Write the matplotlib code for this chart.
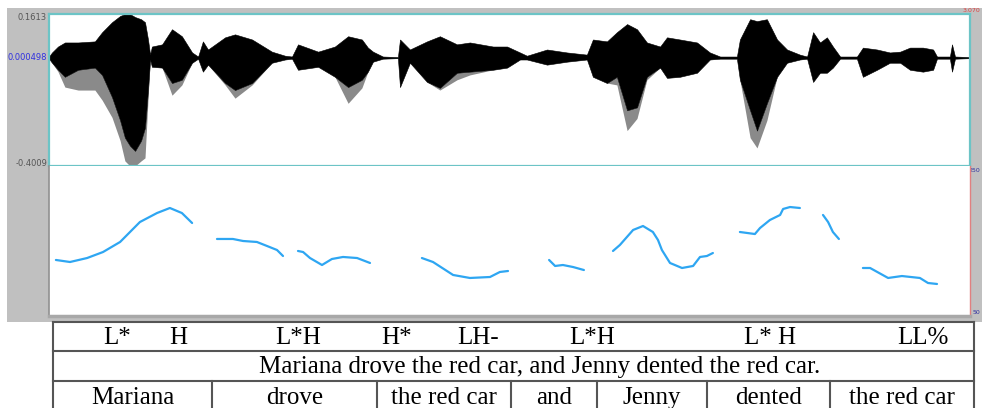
import matplotlib
matplotlib.use("Agg")
import matplotlib.pyplot as plt
from matplotlib.patches import Rectangle

# ── Waveform envelope (time s, amplitude) ────────────────────────────────
wave_t = [0.000, 0.010, 0.030, 0.053, 0.097, 0.153, 0.177, 0.210, 0.237, 0.253,
          0.270, 0.287, 0.307, 0.320, 0.330, 0.337, 0.343, 0.377, 0.410, 0.443,
          0.477, 0.497, 0.513, 0.530, 0.587, 0.620, 0.677, 0.743, 0.787, 0.810,
          0.830, 0.897, 0.953, 0.997, 1.043, 1.063, 1.080, 1.113, 1.163, 1.170,
          1.203, 1.260, 1.303, 1.360, 1.403, 1.480, 1.527, 1.570, 1.593, 1.660,
          1.727, 1.793, 1.813, 1.860, 1.893, 1.927, 1.960, 1.993, 2.037, 2.060,
          2.103, 2.160, 2.203, 2.237, 2.293, 2.303, 2.337, 2.360, 2.393, 2.427,
          2.460, 2.503, 2.527, 2.547, 2.570, 2.593, 2.613, 2.637, 2.693, 2.713,
          2.760, 2.803, 2.837, 2.870, 2.913, 2.947, 2.960, 3.003, 3.010, 3.020,
          3.070]
wave_top = [0.004, 0.019, 0.041, 0.056, 0.056, 0.060, 0.094, 0.131, 0.154, 0.161,
            0.161, 0.150, 0.142, 0.131, 0.067, 0.011, 0.041, 0.049, 0.105, 0.079,
            0.019, 0.004, 0.060, 0.030, 0.075, 0.086, 0.067, 0.022, 0.007, 0.004,
            0.049, 0.022, 0.041, 0.079, 0.067, 0.037, 0.022, 0.004, 0.002, 0.067,
            0.030, 0.060, 0.079, 0.049, 0.056, 0.041, 0.041, 0.019, 0.007, 0.030,
            0.019, 0.011, 0.067, 0.060, 0.094, 0.124, 0.105, 0.056, 0.041, 0.075,
            0.067, 0.056, 0.019, 0.004, 0.004, 0.067, 0.142, 0.135, 0.142, 0.067,
            0.030, 0.011, 0.004, 0.094, 0.056, 0.075, 0.041, 0.004, 0.004, 0.037,
            0.030, 0.019, 0.022, 0.037, 0.037, 0.030, 0.004, 0.004, 0.049, 0.004,
            0.002]
wave_bot = [-0.004, -0.019, -0.045, -0.071, -0.045, -0.037, -0.064, -0.146, -0.232, -0.296,
            -0.326, -0.345, -0.307, -0.259, -0.120, -0.007, -0.034, -0.037, -0.094, -0.082,
            -0.019, -0.004, -0.052, -0.026, -0.094, -0.120, -0.094, -0.019, -0.007, -0.004,
            -0.045, -0.034, -0.071, -0.109, -0.082, -0.052, -0.015, -0.004, -0.002, -0.109,
            -0.019, -0.090, -0.112, -0.056, -0.052, -0.045, -0.037, -0.007, -0.007, -0.026,
            -0.015, -0.007, -0.071, -0.094, -0.071, -0.195, -0.184, -0.071, -0.037, -0.075,
            -0.071, -0.056, -0.007, -0.004, -0.004, -0.082, -0.195, -0.270, -0.169, -0.071,
            -0.019, -0.007, -0.004, -0.090, -0.056, -0.056, -0.037, -0.004, -0.004, -0.071,
            -0.045, -0.019, -0.019, -0.045, -0.052, -0.045, -0.004, -0.004, -0.052, -0.004,
            -0.002]
wave_low = [-0.004, -0.019, -0.052, -0.109, -0.120, -0.120, -0.157, -0.221, -0.307, -0.382,
            -0.401, -0.401, -0.382, -0.371, -0.157, -0.007, -0.034, -0.037, -0.139, -0.101,
            -0.019, -0.004, -0.052, -0.026, -0.101, -0.150, -0.101, -0.019, -0.007, -0.004,
            -0.045, -0.034, -0.071, -0.169, -0.112, -0.052, -0.015, -0.004, -0.002, -0.109,
            -0.019, -0.090, -0.120, -0.082, -0.064, -0.045, -0.037, -0.007, -0.007, -0.026,
            -0.015, -0.007, -0.071, -0.094, -0.101, -0.270, -0.225, -0.082, -0.037, -0.075,
            -0.071, -0.056, -0.007, -0.004, -0.004, -0.082, -0.296, -0.334, -0.232, -0.071,
            -0.019, -0.007, -0.004, -0.090, -0.056, -0.056, -0.037, -0.004, -0.004, -0.071,
            -0.045, -0.019, -0.019, -0.045, -0.052, -0.045, -0.004, -0.004, -0.052, -0.004,
            -0.002]

# ── Pitch contour (time s, Hz), one list per voiced stretch ──────────────
pitch_t = [
    [0.023, 0.070, 0.127, 0.180, 0.237, 0.303, 0.360, 0.403, 0.443, 0.477],
    [0.560, 0.613, 0.647, 0.693, 0.727, 0.760, 0.780],
    [0.830, 0.847, 0.870, 0.910, 0.943, 0.980, 1.027, 1.070],
    [1.243, 1.280, 1.347, 1.403, 1.470, 1.503, 1.530],
    [1.667, 1.687, 1.713, 1.747, 1.783],
    [1.880, 1.903, 1.947, 1.980, 2.013, 2.030, 2.043, 2.070, 2.110, 2.147,
     2.170, 2.193, 2.213],
    [2.303, 2.353, 2.370, 2.403, 2.437, 2.447, 2.470, 2.503],
    [2.580, 2.597, 2.613, 2.633],
    [2.713, 2.737, 2.797, 2.843, 2.903, 2.930, 2.960],
]
pitch_hz = [
    [124.7, 122.0, 127.3, 135.3, 148.7, 175.3, 187.3, 194.0, 187.3, 174.0],
    [152.7, 152.7, 150.0, 148.7, 143.3, 138.0, 130.0],
    [136.7, 135.3, 127.3, 118.0, 126.0, 128.7, 127.3, 120.7],
    [127.3, 122.0, 104.7, 100.7, 102.0, 108.7, 110.0],
    [124.7, 116.7, 118.0, 115.3, 111.3],
    [136.7, 144.7, 164.7, 170.0, 162.0, 151.3, 138.0, 120.7, 114.0, 116.7,
     128.7, 130.0, 134.0],
    [162.0, 159.3, 167.3, 178.0, 184.7, 192.7, 195.3, 194.0],
    [184.7, 175.3, 162.0, 152.7],
    [114.0, 114.0, 100.7, 103.3, 100.7, 94.0, 92.7],
]

# ── Annotation table text ────────────────────────────────────────────────
tones = ["L*", "H", "L*H", "H*", "LH-", "L*H", "L* H", "LL%"]
sentence = "Mariana drove the red car, and Jenny dented the red car."
words = ["Mariana", "drove", "the red car", "and", "Jenny", "dented", "the red car"]

DURATION = 3.07
AMP_MIN, AMP_MAX = -0.4009, 0.1613
F0_MIN, F0_MAX = 50, 250

# layout (pixels of the 982x408 picture)
W, H = 982, 408
tone_x = [117, 178, 298, 397, 478, 592, 770, 923]
col_edges = [53, 212, 377, 511, 597, 707, 830, 974]
row_y = [322, 351, 381, 408]
CYAN = "#6cc4c6"
SERIF = ["Liberation Serif", "DejaVu Serif"]
FS = 18

fig = plt.figure(figsize=(W / 100, H / 100), dpi=100)

# background / table overlay in pixel space
bg = fig.add_axes([0, 0, 1, 1])
bg.set_xlim(0, W)
bg.set_ylim(H, 0)
bg.axis("off")
bg.add_patch(Rectangle((7, 8), W - 7, 314, color="#c0c0c0", lw=0))


def px_axes(x0, y0, x1, y1):
    return fig.add_axes([x0 / W, (H - y1) / H, (x1 - x0) / W, (y1 - y0) / H])


# ── Waveform ─────────────────────────────────────────────────────────────
ax = px_axes(49, 14, 970, 166)
ax.set_facecolor("white")
ax.fill_between(wave_t, wave_low, wave_bot, color="#8a8a8a", lw=0)
ax.fill_between(wave_t, wave_bot, wave_top, color="black", lw=0.4,
                edgecolor="black")
ax.axhline(0, color=CYAN, lw=0.6, zorder=0)
ax.set_xlim(0, DURATION)
ax.set_ylim(AMP_MIN, AMP_MAX)
ax.set_xticks([])
ax.set_yticks([])
for s in ax.spines.values():
    s.set_color(CYAN)
    s.set_linewidth(1.6)

# ── Pitch ────────────────────────────────────────────────────────────────
ax2 = px_axes(49, 166, 970, 316)
ax2.set_facecolor("white")
for ts, hz in zip(pitch_t, pitch_hz):
    ax2.plot(ts, hz, color="#2ea6f2", lw=1.6, solid_capstyle="round")
ax2.set_xlim(0, DURATION)
ax2.set_ylim(F0_MIN, F0_MAX)
ax2.set_xticks([])
ax2.set_yticks([])
ax2.spines["top"].set_visible(False)
ax2.spines["left"].set_color("#909090")
ax2.spines["left"].set_linewidth(1.2)
ax2.spines["bottom"].set_color("#a8a8a8")
ax2.spines["bottom"].set_linewidth(2.5)
ax2.spines["right"].set_color("#e08080")
ax2.spines["right"].set_linestyle((0, (1, 1)))
ax2.spines["right"].set_linewidth(1.0)

# small axis labels (Praat style)
small = dict(fontsize=6.0, family="DejaVu Sans")
bg.text(47, 17, f"{AMP_MAX:.4f}", ha="right", va="center", color="#555555", **small)
bg.text(47, 58, "0.000498", ha="right", va="center", color="#3030e0", **small)
bg.text(47, 163, f"{AMP_MIN:.4f}", ha="right", va="center", color="#555555", **small)
tiny = dict(fontsize=4.5, family="DejaVu Sans", ha="right", va="center")
bg.text(980, 10, f"{DURATION:.3f}", color="#e04040", **tiny)
bg.text(980, 171, str(F0_MAX), color="#3030a0", **tiny)
bg.text(980, 313, str(F0_MIN), color="#3030a0", **tiny)

# ── Annotation table ─────────────────────────────────────────────────────
lc = "#555555"
x0, x1 = col_edges[0], col_edges[-1]
bg.plot([x0, x0], [row_y[0], H], color=lc, lw=1.5)
bg.plot([x1, x1], [row_y[0], H], color=lc, lw=1.5)
for y in row_y[:3]:
    bg.plot([x0, x1], [y, y], color=lc, lw=1.5)
for xe in col_edges[1:-1]:
    bg.plot([xe, xe], [row_y[2], H], color=lc, lw=1.5)

for lab, xt in zip(tones, tone_x):
    bg.text(xt, 338, lab, ha="center", va="center", fontsize=FS, family=SERIF)
bg.text(540, 367, sentence, ha="center", va="center", fontsize=FS, family=SERIF)
for i, wd in enumerate(words):
    xc = (col_edges[i] + col_edges[i + 1]) / 2
    bg.text(xc, 398, wd, ha="center", va="center", fontsize=FS, family=SERIF)

fig.savefig("out.png", dpi=100)
plt.close(fig)
